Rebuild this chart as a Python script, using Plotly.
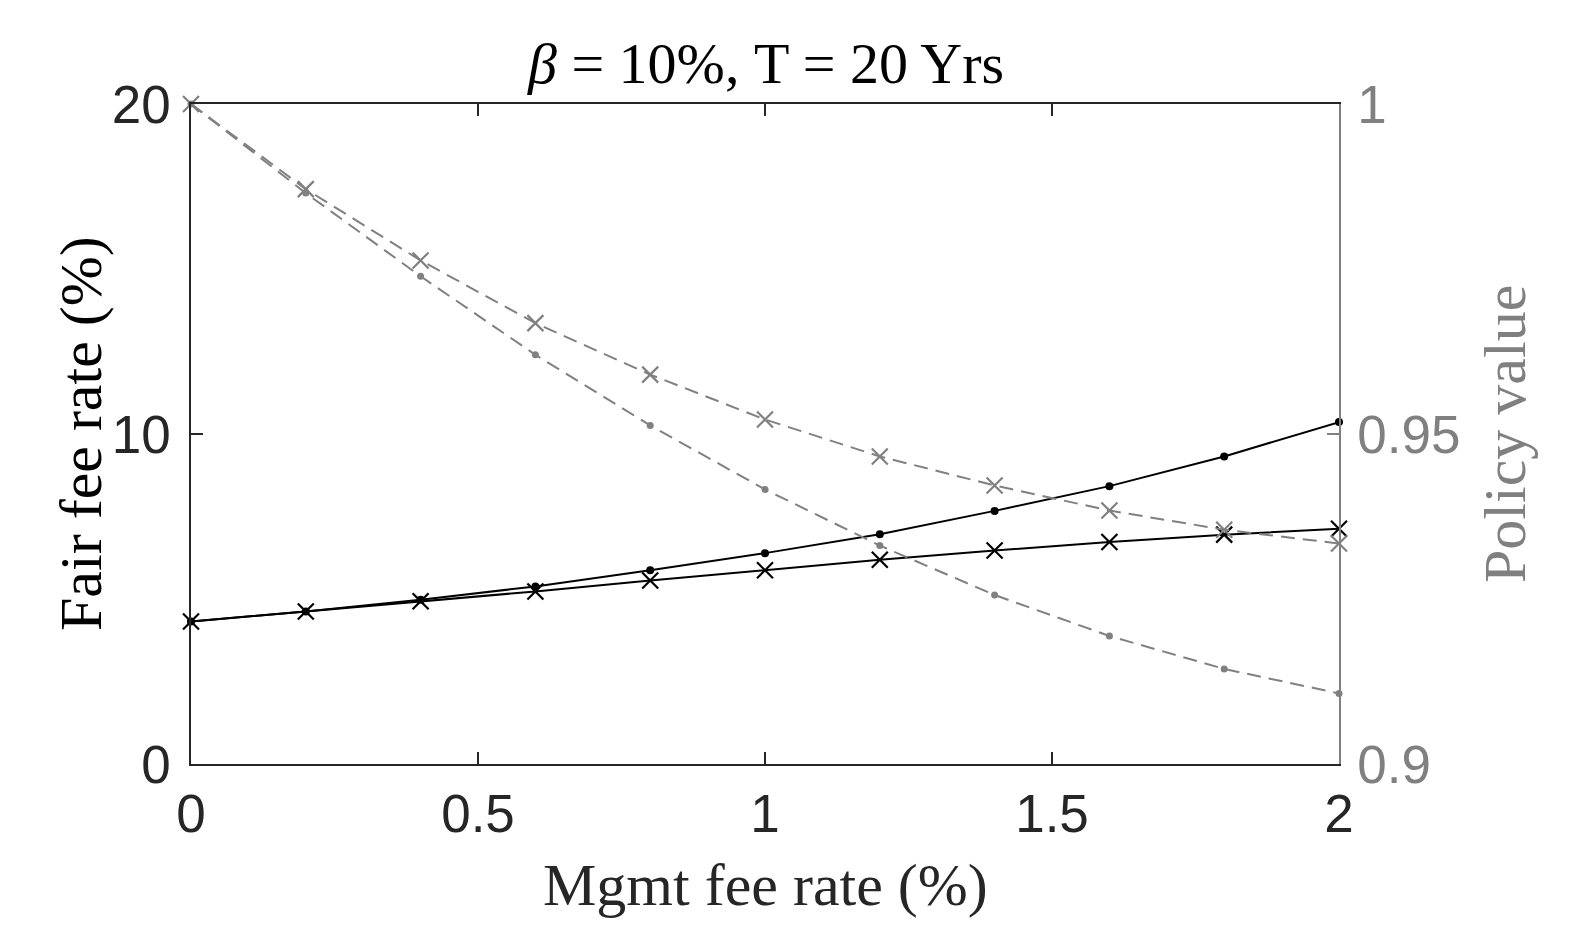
import plotly.graph_objects as go

mgmt_fee = [0.0, 0.2, 0.4, 0.6, 0.8, 1.0, 1.2, 1.4, 1.6, 1.8, 2.0]
fair_fee_dot = [4.32, 4.62, 4.98, 5.38, 5.87, 6.39, 6.96, 7.67, 8.42, 9.32, 10.36]
fair_fee_x = [4.32, 4.62, 4.93, 5.23, 5.56, 5.87, 6.19, 6.47, 6.73, 6.95, 7.13]
policy_dot = [1.0, 0.9865, 0.9739, 0.9620, 0.9513, 0.9416, 0.9331, 0.9256, 0.9194, 0.9144, 0.9107]
policy_x = [1.0, 0.9871, 0.9763, 0.9668, 0.9590, 0.9522, 0.9466, 0.9422, 0.9384, 0.9355, 0.9334]

x_ticks = [0, 0.5, 1, 1.5, 2]
x_ticktext = ["0", "0.5", "1", "1.5", "2"]
y_ticks = [0, 10, 20]
y2_ticks = [0.9, 0.95, 1.0]
y2_ticktext = ["0.9", "0.95", "1"]

BLACK = "#000000"
DARK = "#262626"
GRAY = "#808080"
SANS = "Liberation Sans, Arial, sans-serif"
SERIF = "Liberation Serif, Times New Roman, serif"

fig = go.Figure()

fig.add_trace(go.Scatter(
    x=mgmt_fee, y=fair_fee_dot, mode="lines+markers", yaxis="y",
    line=dict(color=BLACK, width=2),
    marker=dict(symbol="circle", size=8, color=BLACK),
    cliponaxis=False, showlegend=False))
fig.add_trace(go.Scatter(
    x=mgmt_fee, y=fair_fee_x, mode="lines+markers", yaxis="y",
    line=dict(color=BLACK, width=2),
    marker=dict(symbol="x-thin-open", size=16, color=BLACK, line=dict(color=BLACK, width=2.2)),
    cliponaxis=False, showlegend=False))
fig.add_trace(go.Scatter(
    x=mgmt_fee, y=policy_dot, mode="lines+markers", yaxis="y2",
    line=dict(color=GRAY, width=2, dash="14px,8px"),
    marker=dict(symbol="circle", size=7, color=GRAY),
    cliponaxis=False, showlegend=False))
fig.add_trace(go.Scatter(
    x=mgmt_fee, y=policy_x, mode="lines+markers", yaxis="y2",
    line=dict(color=GRAY, width=2, dash="14px,8px"),
    marker=dict(symbol="x-thin-open", size=16, color=GRAY, line=dict(color=GRAY, width=2.2)),
    cliponaxis=False, showlegend=False))

fig.update_layout(
    width=1594, height=946,
    margin=dict(l=191, r=255, t=104, b=182),
    paper_bgcolor="white", plot_bgcolor="white",
    xaxis=dict(
        range=[0, 2], tickvals=x_ticks, ticktext=x_ticktext,
        showgrid=False, zeroline=False,
        showline=True, linecolor=DARK, linewidth=1.5, mirror="ticks",
        ticks="inside", ticklen=12, tickwidth=1.5, tickcolor=DARK,
        tickfont=dict(family=SANS, size=53, color=DARK),
        ticklabelstandoff=3,
    ),
    yaxis=dict(
        range=[0, 20], tickvals=y_ticks,
        showgrid=False, zeroline=False,
        showline=True, linecolor=DARK, linewidth=1.5,
        ticks="inside", ticklen=12, tickwidth=1.5, tickcolor=DARK,
        tickfont=dict(family=SANS, size=53, color=DARK),
        ticklabelstandoff=8,
    ),
    yaxis2=dict(
        range=[0.9, 1.0], tickvals=y2_ticks, ticktext=y2_ticktext,
        overlaying="y", side="right",
        showgrid=False, zeroline=False,
        showline=True, linecolor=GRAY, linewidth=1.5,
        ticks="inside", ticklen=12, tickwidth=1.5, tickcolor=GRAY,
        tickfont=dict(family=SANS, size=53, color=GRAY),
        ticklabelstandoff=6,
    ),
    annotations=[
        dict(text="<i>β</i> = 10%, T = 20 Yrs", xref="paper", yref="paper",
             x=0.5, y=(764 - 63) / 660, xanchor="center", yanchor="middle",
             showarrow=False, font=dict(family=SERIF, size=58, color=BLACK)),
        dict(text="Mgmt fee rate (%)", xref="paper", yref="paper",
             x=0.5, y=(764 - 885) / 660, xanchor="center", yanchor="middle",
             showarrow=False, font=dict(family=SERIF, size=60, color=DARK)),
        dict(text="Fair fee rate (%)", xref="paper", yref="paper",
             x=(81 - 191) / 1148, y=0.5, xanchor="center", yanchor="middle",
             textangle=-90, showarrow=False,
             font=dict(family=SERIF, size=60, color=BLACK)),
        dict(text="Policy value", xref="paper", yref="paper",
             x=(1505 - 191) / 1148, y=0.5, xanchor="center", yanchor="middle",
             textangle=-90, showarrow=False,
             font=dict(family=SERIF, size=60, color=GRAY)),
    ],
)

fig.write_html("out.html")
